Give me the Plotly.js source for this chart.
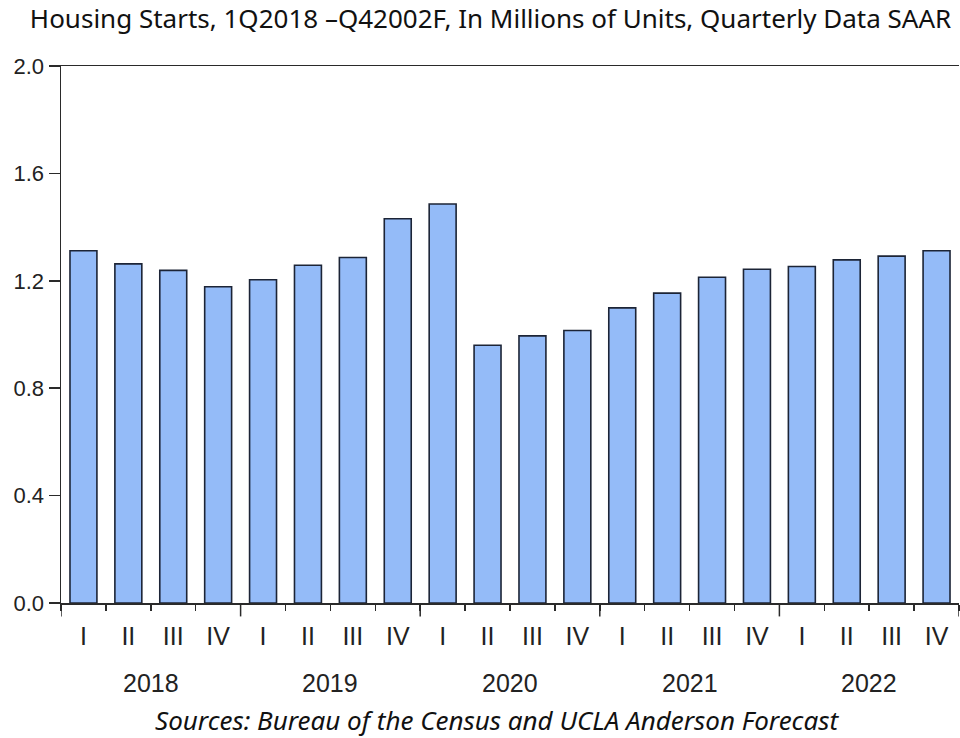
<!DOCTYPE html>
<html>
<head>
<meta charset="utf-8">
<script src="https://cdn.plot.ly/plotly-3.0.1.min.js"></script>
<style>html,body{margin:0;padding:0;background:#fff;}#chart{width:960px;height:738px;}</style>
</head>
<body>
<div id="chart"></div>
<script>
// ---- data ----
const years = ["2018","2019","2020","2021","2022"];
const quarters = ["I","II","III","IV"];
const housingStarts = [
  1.312, 1.263, 1.239, 1.178,
  1.204, 1.258, 1.287, 1.431,
  1.486, 0.960, 0.995, 1.015,
  1.099, 1.154, 1.213, 1.243,
  1.253, 1.278, 1.292, 1.312
];
const yTicks = [0.0, 0.4, 0.8, 1.2, 1.6, 2.0];
const titleText = "Housing Starts, 1Q2018 \u2013Q42002F, In Millions of Units, Quarterly Data SAAR";
const sourceText = "Sources: Bureau of the Census and UCLA Anderson Forecast";

// ---- derived ----
const idx = housingStarts.map((_, i) => i);
const qLabels = idx.map(i => quarters[i % 4]);
const boundaries = idx.map(i => i - 0.5).concat([idx.length - 0.5]);
const yearBounds = boundaries.filter((b, k) => k % 4 === 0);
const yearCenters = years.map((_, k) => k * 4 + 1.5);

const axisColor = "#2a2a2a";
const shapes = yearBounds.map(b => ({
  type: "line", xref: "x", yref: "paper",
  x0: b, x1: b, y0: 0, y1: -0.025,
  line: {color: axisColor, width: 1.5}
}));

const annotations = years.map((yr, k) => ({
  text: yr, x: yearCenters[k], xref: "x", y: 0, yref: "paper",
  yanchor: "middle", xanchor: "center", yshift: -80, showarrow: false,
  font: {family: "Liberation Sans, Arial, sans-serif", size: 25, color: "#222"}
}));
annotations.push({
  text: "<i>" + sourceText + "</i>", x: 0.485, xref: "paper", y: 0, yref: "paper",
  yanchor: "middle", xanchor: "center", yshift: -117, showarrow: false,
  font: {family: "Noto Sans, sans-serif", size: 26, color: "#111"}
});

const trace = {
  type: "bar", x: idx, y: housingStarts, width: 0.6,
  marker: {color: "#94BBF8", line: {color: "#1c2436", width: 1.6}},
  hoverinfo: "y"
};

const layout = {
  width: 960, height: 738,
  margin: {l: 61, r: 1, t: 66, b: 135},
  paper_bgcolor: "#fff", plot_bgcolor: "#fff",
  showlegend: false,
  title: {
    text: titleText, x: 0.511, xanchor: "center", y: 0.975, yanchor: "middle",
    font: {family: "Noto Sans, sans-serif", size: 26, color: "#111"}
  },
  xaxis: {
    range: [-0.5, idx.length - 0.5],
    tickmode: "array", tickvals: idx, ticktext: qLabels, ticks: "",
    ticklabelstandoff: 10,
    tickfont: {family: "Liberation Sans, Arial, sans-serif", size: 25, color: "#222"},
    showline: true, linecolor: axisColor, linewidth: 1.5, mirror: true,
    showgrid: false, zeroline: false,
    minor: {tickmode: "array", tickvals: boundaries, ticks: "outside", ticklen: 6, tickwidth: 1.5, tickcolor: axisColor, showgrid: false}
  },
  yaxis: {
    range: [0, 2], tickmode: "array", tickvals: yTicks,
    ticktext: yTicks.map(v => v.toFixed(1)),
    ticks: "outside", ticklen: 11, tickwidth: 1.5, tickcolor: axisColor,
    showline: true, linecolor: axisColor, linewidth: 1.5, mirror: false,
    showgrid: false, zeroline: false,
    tickfont: {family: "Liberation Sans, Arial, sans-serif", size: 22, color: "#222"}
  },
  shapes: shapes,
  annotations: annotations
};

Plotly.newPlot("chart", [trace], layout, {displayModeBar: false, staticPlot: true});
</script>
</body>
</html>
